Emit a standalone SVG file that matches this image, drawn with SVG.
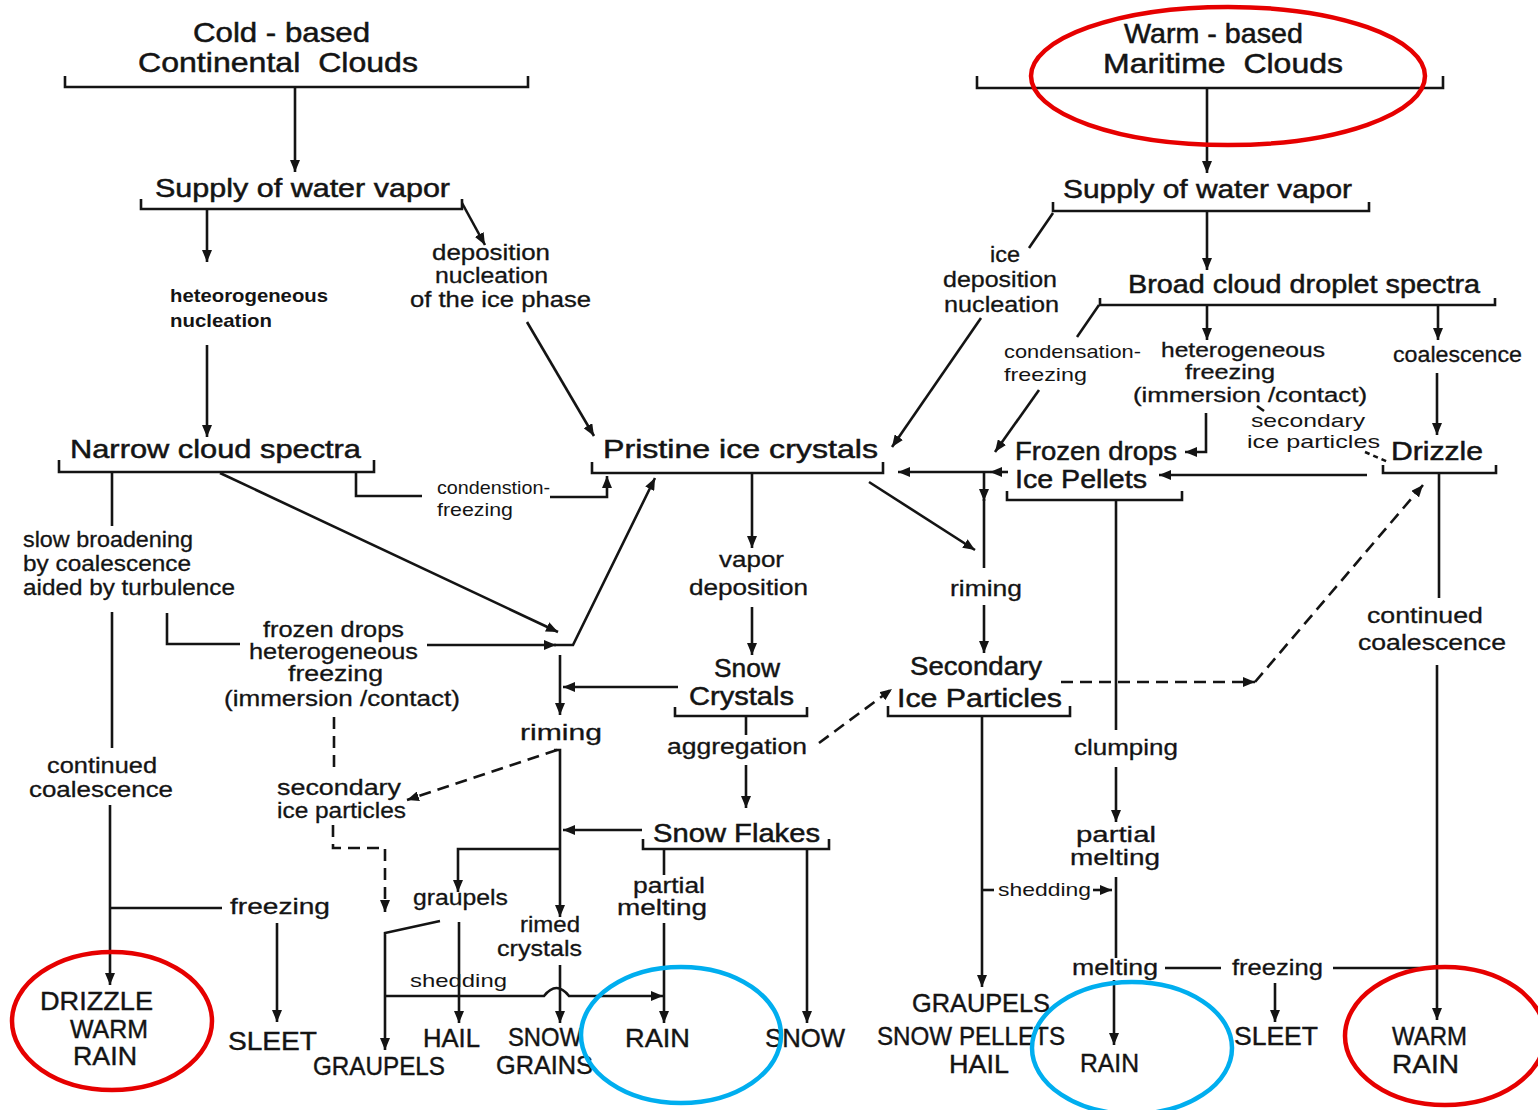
<svg xmlns="http://www.w3.org/2000/svg" width="1538" height="1110" viewBox="0 0 1538 1110">
<defs>
<marker id="ah" markerUnits="userSpaceOnUse" markerWidth="12" markerHeight="10" refX="12" refY="5" orient="auto" viewBox="0 0 12 10"><path d="M0,0 L12,5 L0,10 z" fill="#141414"/></marker>
</defs>
<style>
text{font-family:"Liberation Sans",Arial,sans-serif;fill:#141414}
.h{font-size:28px;stroke:#141414;stroke-width:0.5}
.n{font-size:26px;stroke:#141414;stroke-width:0.5}
.l{font-size:22px;stroke:#141414;stroke-width:0.3}
.m{font-size:20px;stroke:#141414;stroke-width:0.3}
.s{font-size:19px}
.b{font-size:19px;font-weight:bold}
.c{font-size:25px;stroke:#141414;stroke-width:0.4}
.br,.ln{fill:none;stroke:#141414;stroke-width:2.6}
.ar{marker-end:url(#ah)}
.d{stroke-dasharray:12 7}
.hl{fill:none;stroke-width:4.5}
.red{stroke:#e60000}
.blue{stroke:#00aeef}
</style>
<rect width="1538" height="1110" fill="#fff"/>

<g id="cold-continental">
<text class="h" x="193" y="42" textLength="177" lengthAdjust="spacingAndGlyphs">Cold - based</text>
<text class="h" x="138" y="72" textLength="280" lengthAdjust="spacingAndGlyphs">Continental&#160; Clouds</text>
<path class="br" d="M65,76 V87 H528 V76"/>
</g>
<g id="supply-left">
<text class="n" x="155" y="197" textLength="295" lengthAdjust="spacingAndGlyphs">Supply of water vapor</text>
<path class="br" d="M141,199 V209 H462 V199"/>
</g>
<g id="het-nucleation">
<text class="b" x="170" y="302" textLength="158" lengthAdjust="spacingAndGlyphs">heteorogeneous</text>
<text class="b" x="170" y="327" textLength="102" lengthAdjust="spacingAndGlyphs">nucleation</text>
</g>
<g id="dep-nucleation">
<text class="l" x="432" y="260" textLength="118" lengthAdjust="spacingAndGlyphs">deposition</text>
<text class="l" x="435" y="283" textLength="113" lengthAdjust="spacingAndGlyphs">nucleation</text>
<text class="l" x="410" y="307" textLength="181" lengthAdjust="spacingAndGlyphs">of the ice phase</text>
</g>
<g id="narrow-spectra">
<text class="n" x="70" y="458" textLength="291" lengthAdjust="spacingAndGlyphs">Narrow cloud spectra</text>
<path class="br" d="M59,460 V472 H374 V460"/>
</g>
<g id="pristine">
<text class="n" x="603" y="458" textLength="275" lengthAdjust="spacingAndGlyphs">Pristine ice crystals</text>
<path class="br" d="M592,462 V473 H883 V462"/>
</g>
<g id="condenstion-freezing">
<text class="s" x="437" y="494" textLength="113" lengthAdjust="spacingAndGlyphs">condenstion-</text>
<text class="s" x="437" y="516" textLength="76" lengthAdjust="spacingAndGlyphs">freezing</text>
</g>
<g id="slow-broadening">
<text class="l" x="23" y="547" textLength="170" lengthAdjust="spacingAndGlyphs">slow broadening</text>
<text class="l" x="23" y="571" textLength="168" lengthAdjust="spacingAndGlyphs">by coalescence</text>
<text class="l" x="23" y="595" textLength="212" lengthAdjust="spacingAndGlyphs">aided by turbulence</text>
</g>
<g id="frozen-drops-left">
<text class="l" x="263" y="637" textLength="141" lengthAdjust="spacingAndGlyphs">frozen drops</text>
<text class="l" x="249" y="659" textLength="169" lengthAdjust="spacingAndGlyphs">heterogeneous</text>
<text class="l" x="288" y="681" textLength="95" lengthAdjust="spacingAndGlyphs">freezing</text>
<text class="l" x="224" y="706" textLength="236" lengthAdjust="spacingAndGlyphs">(immersion /contact)</text>
</g>
<g id="continued-left">
<text class="l" x="47" y="773" textLength="110" lengthAdjust="spacingAndGlyphs">continued</text>
<text class="l" x="29" y="797" textLength="144" lengthAdjust="spacingAndGlyphs">coalescence</text>
</g>
<g id="secondary-left">
<text class="l" x="277" y="795" textLength="124" lengthAdjust="spacingAndGlyphs">secondary</text>
<text class="l" x="277" y="818" textLength="129" lengthAdjust="spacingAndGlyphs">ice particles</text>
</g>
<g id="freezing-left">
<text class="l" x="230" y="914" textLength="100" lengthAdjust="spacingAndGlyphs">freezing</text>
</g>
<g id="drizzle-warm-rain">
<text class="c" x="40" y="1010" textLength="113" lengthAdjust="spacingAndGlyphs">DRIZZLE</text>
<text class="c" x="70" y="1038" textLength="78" lengthAdjust="spacingAndGlyphs">WARM</text>
<text class="c" x="73" y="1065" textLength="64" lengthAdjust="spacingAndGlyphs">RAIN</text>
</g>
<g id="sleet-left"><text class="c" x="228" y="1050" textLength="89" lengthAdjust="spacingAndGlyphs">SLEET</text></g>
<g id="graupels-out"><text class="c" x="313" y="1075" textLength="132" lengthAdjust="spacingAndGlyphs">GRAUPELS</text></g>
<g id="graupels"><text class="l" x="413" y="905" textLength="95" lengthAdjust="spacingAndGlyphs">graupels</text></g>
<g id="hail-left"><text class="c" x="423" y="1047" textLength="57" lengthAdjust="spacingAndGlyphs">HAIL</text></g>
<g id="snow-grains">
<text class="c" x="508" y="1046" textLength="74" lengthAdjust="spacingAndGlyphs">SNOW</text>
<text class="c" x="496" y="1074" textLength="97" lengthAdjust="spacingAndGlyphs">GRAINS</text>
</g>
<g id="shedding-left"><text class="s" x="410" y="987" textLength="97" lengthAdjust="spacingAndGlyphs">shedding</text></g>
<g id="rimed-crystals">
<text class="l" x="520" y="932" textLength="60" lengthAdjust="spacingAndGlyphs">rimed</text>
<text class="l" x="497" y="956" textLength="85" lengthAdjust="spacingAndGlyphs">crystals</text>
</g>
<g id="riming-left"><text class="l" x="520" y="740" textLength="82" lengthAdjust="spacingAndGlyphs">riming</text></g>
<g id="vapor-deposition">
<text class="l" x="719" y="567" textLength="65" lengthAdjust="spacingAndGlyphs">vapor</text>
<text class="l" x="689" y="595" textLength="119" lengthAdjust="spacingAndGlyphs">deposition</text>
</g>
<g id="snow-crystals">
<text class="n" x="714" y="677" textLength="66" lengthAdjust="spacingAndGlyphs">Snow</text>
<text class="n" x="689" y="705" textLength="105" lengthAdjust="spacingAndGlyphs">Crystals</text>
<path class="br" d="M675,707 V716 H807 V707"/>
</g>
<g id="aggregation"><text class="l" x="667" y="754" textLength="140" lengthAdjust="spacingAndGlyphs">aggregation</text></g>
<g id="snow-flakes">
<text class="n" x="653" y="842" textLength="167" lengthAdjust="spacingAndGlyphs">Snow Flakes</text>
<path class="br" d="M643,839 V849 H829 V839"/>
</g>
<g id="partial-melting-left">
<text class="l" x="633" y="893" textLength="72" lengthAdjust="spacingAndGlyphs">partial</text>
<text class="l" x="617" y="915" textLength="90" lengthAdjust="spacingAndGlyphs">melting</text>
</g>
<g id="rain-left"><text class="c" x="625" y="1047" textLength="65" lengthAdjust="spacingAndGlyphs">RAIN</text></g>
<g id="snow-out"><text class="c" x="765" y="1047" textLength="80" lengthAdjust="spacingAndGlyphs">SNOW</text></g>

<g id="warm-maritime">
<text class="h" x="1124" y="43" textLength="179" lengthAdjust="spacingAndGlyphs">Warm - based</text>
<text class="h" x="1103" y="73" textLength="240" lengthAdjust="spacingAndGlyphs">Maritime&#160; Clouds</text>
<path class="br" d="M977,76 V88 H1443 V76"/>
</g>
<g id="supply-right">
<text class="n" x="1063" y="198" textLength="289" lengthAdjust="spacingAndGlyphs">Supply of water vapor</text>
<path class="br" d="M1053,202 V211 H1369 V202"/>
</g>
<g id="ice-dep-nucleation">
<text class="l" x="990" y="262" textLength="30" lengthAdjust="spacingAndGlyphs">ice</text>
<text class="l" x="943" y="287" textLength="114" lengthAdjust="spacingAndGlyphs">deposition</text>
<text class="l" x="944" y="312" textLength="115" lengthAdjust="spacingAndGlyphs">nucleation</text>
</g>
<g id="broad-spectra">
<text class="n" x="1128" y="293" textLength="352" lengthAdjust="spacingAndGlyphs">Broad cloud droplet spectra</text>
<path class="br" d="M1100,298 V305 H1495 V298"/>
</g>
<g id="condensation-freezing">
<text class="s" x="1004" y="358" textLength="137" lengthAdjust="spacingAndGlyphs">condensation-</text>
<text class="s" x="1004" y="381" textLength="83" lengthAdjust="spacingAndGlyphs">freezing</text>
</g>
<g id="het-freezing-right">
<text class="m" x="1161" y="357" textLength="164" lengthAdjust="spacingAndGlyphs">heterogeneous</text>
<text class="m" x="1185" y="379" textLength="90" lengthAdjust="spacingAndGlyphs">freezing</text>
<text class="m" x="1133" y="402" textLength="234" lengthAdjust="spacingAndGlyphs">(immersion /contact)</text>
</g>
<g id="coalescence-right"><text class="l" x="1393" y="362" textLength="129" lengthAdjust="spacingAndGlyphs">coalescence</text></g>
<g id="secondary-right">
<text class="s" x="1251" y="427" textLength="114" lengthAdjust="spacingAndGlyphs">secondary</text>
<text class="s" x="1247" y="448" textLength="133" lengthAdjust="spacingAndGlyphs">ice particles</text>
</g>
<g id="drizzle">
<text class="n" x="1391" y="460" textLength="92" lengthAdjust="spacingAndGlyphs">Drizzle</text>
<path class="br" d="M1383,465 V473 H1496 V465"/>
</g>
<g id="frozen-drops-pellets">
<text class="n" x="1015" y="460" textLength="162" lengthAdjust="spacingAndGlyphs">Frozen drops</text>
<text class="n" x="1015" y="488" textLength="132" lengthAdjust="spacingAndGlyphs">Ice Pellets</text>
<path class="br" d="M1007,491 V500 H1182 V491"/>
</g>
<g id="riming-right"><text class="l" x="950" y="596" textLength="72" lengthAdjust="spacingAndGlyphs">riming</text></g>
<g id="secondary-ice-particles">
<text class="n" x="910" y="675" textLength="132" lengthAdjust="spacingAndGlyphs">Secondary</text>
<text class="n" x="897" y="707" textLength="165" lengthAdjust="spacingAndGlyphs">Ice Particles</text>
<path class="br" d="M888,706 V716 H1070 V706"/>
</g>
<g id="continued-right">
<text class="l" x="1367" y="623" textLength="116" lengthAdjust="spacingAndGlyphs">continued</text>
<text class="l" x="1358" y="650" textLength="148" lengthAdjust="spacingAndGlyphs">coalescence</text>
</g>
<g id="clumping"><text class="l" x="1074" y="755" textLength="104" lengthAdjust="spacingAndGlyphs">clumping</text></g>
<g id="partial-melting-right">
<text class="l" x="1076" y="842" textLength="80" lengthAdjust="spacingAndGlyphs">partial</text>
<text class="l" x="1070" y="865" textLength="90" lengthAdjust="spacingAndGlyphs">melting</text>
</g>
<g id="shedding-right"><text class="s" x="998" y="896" textLength="93" lengthAdjust="spacingAndGlyphs">shedding</text></g>
<g id="melting-right"><text class="l" x="1072" y="975" textLength="86" lengthAdjust="spacingAndGlyphs">melting</text></g>
<g id="freezing-right"><text class="l" x="1232" y="975" textLength="91" lengthAdjust="spacingAndGlyphs">freezing</text></g>
<g id="graupels-pellets-hail">
<text class="c" x="912" y="1012" textLength="138" lengthAdjust="spacingAndGlyphs">GRAUPELS</text>
<text class="c" x="877" y="1045" textLength="188" lengthAdjust="spacingAndGlyphs">SNOW PELLETS</text>
<text class="c" x="949" y="1073" textLength="60" lengthAdjust="spacingAndGlyphs">HAIL</text>
</g>
<g id="rain-right"><text class="c" x="1080" y="1072" textLength="59" lengthAdjust="spacingAndGlyphs">RAIN</text></g>
<g id="sleet-right"><text class="c" x="1234" y="1045" textLength="84" lengthAdjust="spacingAndGlyphs">SLEET</text></g>
<g id="warm-rain-right">
<text class="c" x="1392" y="1045" textLength="75" lengthAdjust="spacingAndGlyphs">WARM</text>
<text class="c" x="1392" y="1073" textLength="67" lengthAdjust="spacingAndGlyphs">RAIN</text>
</g>

<g id="connectors">
<path class="ln ar" d="M295,87 V172"/>
<path class="ln ar" d="M207,209 V262"/>
<path class="ln ar" d="M462,203 L485,245"/>
<path class="ln ar" d="M207,345 V437"/>
<path class="ln ar" d="M527,322 L594,436"/>
<path class="ln" d="M356,472 V496 H422"/>
<path class="ln ar" d="M550,497 H607 V476"/>
<path class="ln" d="M112,472 V526"/>
<path class="ln" d="M112,612 V748"/>
<path class="ln ar" d="M220,473 L558,632"/>
<path class="ln" d="M167,613 V644 H240"/>
<path class="ln ar" d="M427,645 H556"/>
<path class="ln ar" d="M554,645 H573 L655,478"/>
<path class="ln d" d="M334,717 V772"/>
<path class="ln d ar" d="M333,825 V848 H385 V912"/>
<path class="ln ar" d="M110,805 V985"/>
<path class="ln" d="M110,908 H222"/>
<path class="ln ar" d="M277,923 V1022"/>
<path class="ln ar" d="M560,655 V715"/>
<path class="ln ar" d="M678,687 H563"/>
<path class="ln ar" d="M554,750 H560 V917"/>
<path class="ln ar" d="M642,830 H563"/>
<path class="ln ar" d="M560,849 H458 V892"/>
<path class="ln ar" d="M560,965 V1023"/>
<path class="ln ar" d="M440,921 L385,933 V1050"/>
<path class="ln ar" d="M459,922 V1023"/>
<path class="ln ar" d="M385,996 H544 Q556.5,980 569,996 H663"/>
<path class="ln" d="M664,849 V875"/>
<path class="ln ar" d="M664,923 V1023"/>
<path class="ln ar" d="M807,849 V1023"/>
<path class="ln d ar" d="M557,750 L407,800"/>
<path class="ln ar" d="M752,473 V548"/>
<path class="ln ar" d="M752,607 V655"/>
<path class="ln" d="M746,716 V735"/>
<path class="ln ar" d="M746,765 V808"/>
<path class="ln d ar" d="M819,743 L892,689"/>
<path class="ln ar" d="M869,482 L975,550"/>
<path class="ln ar" d="M1207,88 V173"/>
<path class="ln ar" d="M1207,211 V270"/>
<path class="ln" d="M1053,213 L1029,248"/>
<path class="ln ar" d="M981,318 L892,447"/>
<path class="ln ar" d="M1207,305 V340"/>
<path class="ln ar" d="M1438,305 V340"/>
<path class="ln" d="M1099,305 L1077,337"/>
<path class="ln ar" d="M1039,390 L995,452"/>
<path class="ln ar" d="M1206,413 V452 H1185"/>
<path class="ln ar" d="M1437,373 V435"/>
<path class="ln ar" d="M1367,475 H1159"/>
<path class="ln" d="M1365,452 L1388,462" stroke-dasharray="5 4"/>
<path class="ln" d="M1257,406 L1264,411" stroke-width="1.6"/>
<path class="ln ar" d="M1008,472 H990"/>
<path class="ln ar" d="M990,472 H898"/>
<path class="ln ar" d="M984,472 V501"/>
<path class="ln" d="M984,499 V568"/>
<path class="ln ar" d="M984,605 V653"/>
<path class="ln ar" d="M982,716 V987"/>
<path class="ln" d="M982,890 H994"/>
<path class="ln ar" d="M1093,890 H1112"/>
<path class="ln d ar" d="M1061,682 H1255"/>
<path class="ln d ar" d="M1255,682 L1423,485"/>
<path class="ln" d="M1116,500 V730"/>
<path class="ln ar" d="M1116,767 V822"/>
<path class="ln" d="M1116,877 V958"/>
<path class="ln ar" d="M1114,980 V1045"/>
<path class="ln" d="M1165,968 H1221"/>
<path class="ln" d="M1333,968 H1437"/>
<path class="ln ar" d="M1275,983 V1022"/>
<path class="ln" d="M1439,473 V598"/>
<path class="ln ar" d="M1437,665 V1020"/>
</g>

<g id="highlights">
<ellipse class="hl red" cx="1228" cy="76" rx="197" ry="69"/>
<ellipse class="hl red" cx="112" cy="1021" rx="100" ry="69"/>
<ellipse class="hl blue" cx="681" cy="1035" rx="100" ry="68"/>
<ellipse class="hl blue" cx="1132" cy="1048" rx="100" ry="66"/>
<ellipse class="hl red" cx="1445" cy="1036" rx="100" ry="69"/>
</g>
</svg>
